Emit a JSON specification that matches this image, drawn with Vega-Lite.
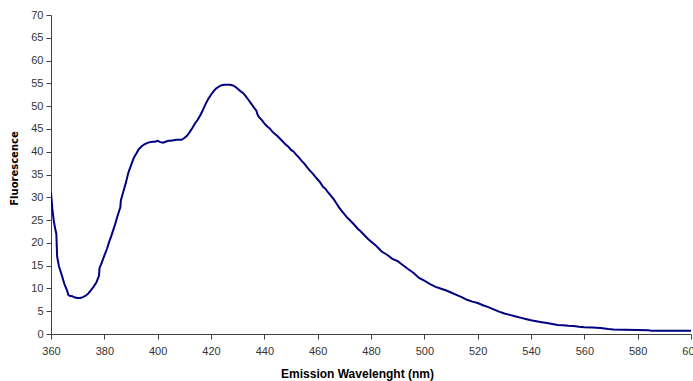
{
  "$schema": "https://vega.github.io/schema/vega-lite/v6.json",
  "width": 640,
  "height": 319,
  "autosize": "none",
  "padding": {"left": 51, "top": 15, "right": 2, "bottom": 47},
  "background": "white",
  "config": {"view": {"stroke": null}},
  "data": {"values": [
    {"wl": 360, "f": 31}, {"wl": 360.5, "f": 27.5}, {"wl": 361, "f": 25}, {"wl": 361.5, "f": 23.3},
    {"wl": 362, "f": 22}, {"wl": 362.3, "f": 17}, {"wl": 363, "f": 14.8}, {"wl": 364, "f": 13},
    {"wl": 365, "f": 11}, {"wl": 366, "f": 9.6}, {"wl": 366.5, "f": 8.6}, {"wl": 367, "f": 8.4},
    {"wl": 368, "f": 8.3}, {"wl": 369, "f": 8}, {"wl": 370, "f": 7.9}, {"wl": 371, "f": 7.9},
    {"wl": 372, "f": 8.1}, {"wl": 373, "f": 8.4}, {"wl": 374, "f": 8.9}, {"wl": 375, "f": 9.6},
    {"wl": 376, "f": 10.4}, {"wl": 377, "f": 11.3}, {"wl": 378, "f": 12.8}, {"wl": 378.2, "f": 14.5},
    {"wl": 379, "f": 15.6}, {"wl": 380, "f": 17.2}, {"wl": 381, "f": 18.7}, {"wl": 381.8, "f": 20.2},
    {"wl": 382.5, "f": 21.3}, {"wl": 383, "f": 22.2}, {"wl": 384, "f": 24}, {"wl": 385, "f": 26},
    {"wl": 386, "f": 27.8}, {"wl": 386.2, "f": 29.3}, {"wl": 387, "f": 31}, {"wl": 388, "f": 33},
    {"wl": 389, "f": 35.4}, {"wl": 390, "f": 37}, {"wl": 391, "f": 38.6}, {"wl": 392, "f": 39.6},
    {"wl": 393, "f": 40.6}, {"wl": 394, "f": 41.2}, {"wl": 395, "f": 41.6}, {"wl": 396, "f": 41.9},
    {"wl": 397, "f": 42.1}, {"wl": 398, "f": 42.2}, {"wl": 399, "f": 42.2}, {"wl": 400, "f": 42.4},
    {"wl": 401, "f": 42.1}, {"wl": 402, "f": 42}, {"wl": 403, "f": 42.2}, {"wl": 404, "f": 42.4},
    {"wl": 405, "f": 42.4}, {"wl": 406, "f": 42.5}, {"wl": 407, "f": 42.6}, {"wl": 408, "f": 42.6},
    {"wl": 409, "f": 42.6}, {"wl": 410, "f": 43}, {"wl": 411, "f": 43.5}, {"wl": 412, "f": 44.3},
    {"wl": 413, "f": 45.2}, {"wl": 414, "f": 46.2}, {"wl": 415, "f": 47}, {"wl": 416, "f": 48},
    {"wl": 417, "f": 49.2}, {"wl": 418, "f": 50.5}, {"wl": 419, "f": 51.6}, {"wl": 420, "f": 52.5},
    {"wl": 421, "f": 53.3}, {"wl": 422, "f": 53.9}, {"wl": 423, "f": 54.3}, {"wl": 424, "f": 54.6},
    {"wl": 425, "f": 54.7}, {"wl": 426, "f": 54.7}, {"wl": 427, "f": 54.7}, {"wl": 428, "f": 54.6},
    {"wl": 429, "f": 54.3}, {"wl": 430, "f": 53.8}, {"wl": 431, "f": 53.3}, {"wl": 432, "f": 52.9},
    {"wl": 433, "f": 52.2}, {"wl": 434, "f": 51.4}, {"wl": 435, "f": 50.6}, {"wl": 436, "f": 49.8},
    {"wl": 437, "f": 49}, {"wl": 437.5, "f": 48.1}, {"wl": 438, "f": 47.6}, {"wl": 439, "f": 47},
    {"wl": 440, "f": 46.2}, {"wl": 441, "f": 45.6}, {"wl": 442, "f": 45.1}, {"wl": 443, "f": 44.4},
    {"wl": 444, "f": 43.9}, {"wl": 445, "f": 43.4}, {"wl": 446, "f": 42.8}, {"wl": 447, "f": 42.2},
    {"wl": 448, "f": 41.6}, {"wl": 449, "f": 41.1}, {"wl": 450, "f": 40.4}, {"wl": 451, "f": 40},
    {"wl": 452, "f": 39.3}, {"wl": 453, "f": 38.7}, {"wl": 454, "f": 38}, {"wl": 455, "f": 37.4},
    {"wl": 456, "f": 36.6}, {"wl": 457, "f": 35.9}, {"wl": 458, "f": 35.3}, {"wl": 459, "f": 34.6},
    {"wl": 460, "f": 33.9}, {"wl": 461, "f": 33.2}, {"wl": 462, "f": 32.3}, {"wl": 463, "f": 31.8},
    {"wl": 464, "f": 31}, {"wl": 465, "f": 30.3}, {"wl": 466, "f": 29.6}, {"wl": 467, "f": 28.7},
    {"wl": 468, "f": 27.8}, {"wl": 469, "f": 27}, {"wl": 470, "f": 26.3}, {"wl": 471, "f": 25.6},
    {"wl": 472, "f": 25}, {"wl": 473, "f": 24.4}, {"wl": 474, "f": 23.8}, {"wl": 475, "f": 23.1},
    {"wl": 476, "f": 22.6}, {"wl": 477, "f": 22}, {"wl": 478, "f": 21.4}, {"wl": 479, "f": 20.8},
    {"wl": 480, "f": 20.3}, {"wl": 482, "f": 19.3}, {"wl": 484, "f": 18.1}, {"wl": 486, "f": 17.4},
    {"wl": 488, "f": 16.5}, {"wl": 490, "f": 16}, {"wl": 492, "f": 15.1}, {"wl": 494, "f": 14.2},
    {"wl": 496, "f": 13.4}, {"wl": 498, "f": 12.3}, {"wl": 500, "f": 11.7}, {"wl": 502, "f": 11},
    {"wl": 504, "f": 10.4}, {"wl": 506, "f": 10}, {"wl": 508, "f": 9.6}, {"wl": 510, "f": 9.1},
    {"wl": 512, "f": 8.6}, {"wl": 514, "f": 8.1}, {"wl": 516, "f": 7.5}, {"wl": 518, "f": 7.1},
    {"wl": 520, "f": 6.8}, {"wl": 522, "f": 6.3}, {"wl": 524, "f": 5.9}, {"wl": 526, "f": 5.4},
    {"wl": 528, "f": 4.9}, {"wl": 530, "f": 4.5}, {"wl": 532, "f": 4.2}, {"wl": 534, "f": 3.9},
    {"wl": 536, "f": 3.6}, {"wl": 538, "f": 3.3}, {"wl": 540, "f": 3}, {"wl": 542, "f": 2.8},
    {"wl": 544, "f": 2.6}, {"wl": 546, "f": 2.4}, {"wl": 548, "f": 2.2}, {"wl": 550, "f": 2},
    {"wl": 552, "f": 1.9}, {"wl": 554, "f": 1.8}, {"wl": 556, "f": 1.75}, {"wl": 558, "f": 1.6},
    {"wl": 560, "f": 1.5}, {"wl": 563, "f": 1.4}, {"wl": 566, "f": 1.3}, {"wl": 569, "f": 1.1},
    {"wl": 571, "f": 1}, {"wl": 575, "f": 0.95}, {"wl": 580, "f": 0.9}, {"wl": 584, "f": 0.85},
    {"wl": 585, "f": 0.7}, {"wl": 590, "f": 0.7}, {"wl": 595, "f": 0.7}, {"wl": 600, "f": 0.7}
  ]},
  "mark": {"type": "line", "color": "#000080", "strokeWidth": 2, "clip": true},
  "encoding": {
    "x": {
      "field": "wl", "type": "quantitative",
      "scale": {"domain": [360, 600], "nice": false, "zero": false},
      "axis": {
        "values": [360, 380, 400, 420, 440, 460, 480, 500, 520, 540, 560, 580, 600],
        "title": "Emission Wavelenght (nm)",
        "grid": false,
        "domainColor": "#404040", "tickColor": "#404040", "tickSize": 5,
        "labelFont": "Liberation Sans", "labelFontSize": 11, "labelColor": "#333333",
        "labelPadding": 6, "labelFlush": false,
        "titleFont": "Liberation Sans", "titleFontSize": 12, "titleFontWeight": "bold",
        "titleColor": "#000000", "titleX": 306, "titleY": 39, "titleBaseline": "middle", "titleAlign": "center"
      }
    },
    "y": {
      "field": "f", "type": "quantitative",
      "scale": {"domain": [0, 70], "nice": false},
      "axis": {
        "values": [0, 5, 10, 15, 20, 25, 30, 35, 40, 45, 50, 55, 60, 65, 70],
        "title": "Fluorescence",
        "grid": false,
        "domainColor": "#404040", "tickColor": "#404040", "tickSize": 5,
        "labelFont": "Liberation Sans", "labelFontSize": 11, "labelColor": "#333333",
        "labelPadding": 3, "labelFlush": false,
        "titleFont": "DejaVu Sans", "titleFontSize": 10, "titleFontWeight": "bold",
        "titleColor": "#000000", "titleX": -37, "titleY": 153, "titleAngle": 270,
        "titleBaseline": "middle", "titleAlign": "center"
      }
    }
  }
}
